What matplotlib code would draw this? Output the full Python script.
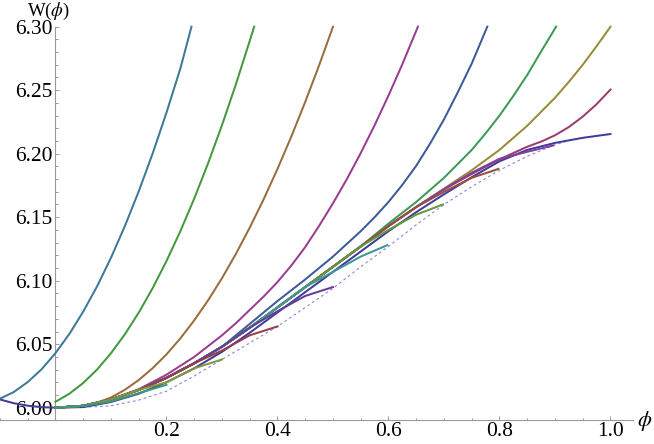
import matplotlib
matplotlib.use('Agg')
import matplotlib.pyplot as plt
from matplotlib.colors import hsv_to_rgb
from matplotlib.ticker import FixedLocator


# common band that most approximations follow before they peel off
GRID = [0.0, 0.05, 0.1, 0.15, 0.2, 0.25, 0.3, 0.35, 0.4, 0.45, 0.5,
        0.55, 0.6, 0.65, 0.7, 0.75, 0.8]
BAND = [6.000, 6.0015, 6.0065, 6.014, 6.0235, 6.035, 6.048, 6.063, 6.079,
        6.095, 6.111, 6.127, 6.143, 6.158, 6.172, 6.185, 6.196]

# long curves
C1_X = [-0.1, -0.075, -0.05, -0.025, 0.0, 0.05, 0.1, 0.15, 0.2, 0.25, 0.3,
        0.35, 0.4, 0.45, 0.5, 0.55, 0.6, 0.65, 0.7, 0.75, 0.8, 0.85, 0.9,
        0.95, 1.0]
C1_Y = [6.0065, 6.0035, 6.0016, 6.0004, 6.000, 6.0005, 6.0045, 6.011, 6.020,
        6.031, 6.044, 6.059, 6.075, 6.091, 6.107, 6.123, 6.139, 6.154, 6.168,
        6.1815, 6.194, 6.203, 6.2085, 6.2125, 6.2155]

C2_X = GRID[:15] + [0.75, 0.8, 0.85, 0.875, 0.9, 0.925, 0.95, 0.975, 1.0]
C2_Y = BAND[:15] + [6.184, 6.1955, 6.2055, 6.2095, 6.2145, 6.221, 6.2292,
                    6.239, 6.2505]

C3_X = GRID[:14] + [0.7, 0.75, 0.8, 0.85, 0.9, 0.925, 0.95, 0.975, 1.0]
C3_Y = BAND[:14] + [6.1725, 6.187, 6.203, 6.222, 6.244, 6.2566, 6.270,
                    6.2847, 6.300]

C4_X = GRID[:12] + [0.6, 0.65, 0.7, 0.75, 0.775, 0.8, 0.825, 0.85, 0.875,
                    0.902]
C4_Y = BAND[:12] + [6.145, 6.162, 6.181, 6.203, 6.216, 6.230, 6.2455, 6.262,
                    6.2805, 6.300]

C5_X = GRID[:7] + [0.35, 0.4, 0.45, 0.5, 0.55, 0.575, 0.6, 0.625, 0.65,
                   0.675, 0.7, 0.725, 0.75, 0.778]
C5_Y = BAND[:7] + [6.066, 6.084, 6.101, 6.119, 6.139, 6.150, 6.162, 6.1755,
                   6.1905, 6.208, 6.227, 6.2485, 6.271, 6.300]

C6_X = [0.0, 0.05, 0.1, 0.15, 0.2, 0.25, 0.3, 0.325, 0.35, 0.375, 0.4,
        0.425, 0.45, 0.475, 0.5, 0.525, 0.55, 0.575, 0.6, 0.625, 0.653]
C6_Y = [6.000, 6.0015, 6.0065, 6.0145, 6.026, 6.040, 6.057, 6.0665, 6.077,
        6.0875, 6.099, 6.112, 6.1265, 6.1432, 6.161, 6.180, 6.2005, 6.2224,
        6.2458, 6.2705, 6.300]

C7_X = [0.0, 0.025, 0.05, 0.075, 0.1, 0.125, 0.15, 0.175, 0.2, 0.225, 0.25,
        0.275, 0.3, 0.325, 0.35, 0.375, 0.4, 0.425, 0.45, 0.475, 0.5]
C7_Y = [6.000, 6.0005, 6.0015, 6.004, 6.008, 6.0141, 6.0218, 6.0311, 6.042,
        6.0546, 6.0688, 6.0846, 6.102, 6.1211, 6.1418, 6.1641, 6.188, 6.2136,
        6.2408, 6.2696, 6.300]

C8_X = [0.0, 0.025, 0.05, 0.075, 0.1, 0.125, 0.15, 0.175, 0.2, 0.225, 0.25,
        0.275, 0.3, 0.325, 0.35, 0.358]
C8_Y = [6.0047, 6.011, 6.0195, 6.0301, 6.0429, 6.0578, 6.0749, 6.0941,
        6.1155, 6.139, 6.1647, 6.1925, 6.2225, 6.2546, 6.2889, 6.300]

C9_X = [-0.1, -0.075, -0.05, -0.025, 0.0, 0.025, 0.05, 0.075, 0.1, 0.125,
        0.15, 0.175, 0.2, 0.225, 0.245]
C9_Y = [6.0071, 6.0124, 6.0202, 6.0303, 6.043, 6.0581, 6.0757, 6.0956,
        6.1181, 6.143, 6.1704, 6.2001, 6.2324, 6.2671, 6.300]

# short curves, each ending on the dashed line
C10_X = GRID + [0.85, 0.897]
C10_Y = BAND + [6.2015, 6.2065]
C11_X = GRID[:14] + [0.7, 0.75, 0.798]
C11_Y = BAND[:14] + [6.170, 6.181, 6.188]
C12_X = GRID[:12] + [0.6, 0.65, 0.698]
C12_Y = BAND[:12] + [6.140, 6.152, 6.160]
C13_X = GRID[:10] + [0.5, 0.55, 0.598]
C13_Y = BAND[:10] + [6.107, 6.119, 6.128]
C14_X = GRID[:8] + [0.4, 0.45, 0.5]
C14_Y = BAND[:8] + [6.076, 6.088, 6.095]
C15_X = GRID[:6] + [0.3, 0.35, 0.4]
C15_Y = BAND[:6] + [6.045, 6.057, 6.064]
C16_X = GRID[:4] + [0.2, 0.25, 0.3]
C16_Y = BAND[:4] + [6.020, 6.031, 6.038]
C17_X = GRID[:2] + [0.1, 0.15, 0.2]
C17_Y = BAND[:2] + [6.005, 6.0115, 6.018]

# dashed reference curve
REF_X = [0.0, 0.05, 0.1, 0.15, 0.2, 0.25, 0.3, 0.35, 0.4, 0.45, 0.5, 0.55,
         0.6, 0.65, 0.7, 0.75, 0.8, 0.85, 0.9, 0.93]
REF_Y = [6.000, 6.0003, 6.0015, 6.006, 6.013, 6.025, 6.038, 6.051, 6.064,
         6.079, 6.094, 6.111, 6.127, 6.144, 6.160, 6.174, 6.187, 6.198,
         6.207, 6.211]

CURVES = [(C1_X, C1_Y), (C2_X, C2_Y), (C3_X, C3_Y), (C4_X, C4_Y),
          (C5_X, C5_Y), (C6_X, C6_Y), (C7_X, C7_Y), (C8_X, C8_Y),
          (C9_X, C9_Y), (C10_X, C10_Y), (C11_X, C11_Y), (C12_X, C12_Y),
          (C13_X, C13_Y), (C14_X, C14_Y), (C15_X, C15_Y), (C16_X, C16_Y),
          (C17_X, C17_Y)]

X_MAJOR = [0.2, 0.4, 0.6, 0.8, 1.0]
X_MINOR = [-0.1, -0.05, 0.05, 0.1, 0.15, 0.25, 0.3, 0.35, 0.45, 0.5, 0.55,
           0.65, 0.7, 0.75, 0.85, 0.9, 0.95]
Y_MAJOR = [6.00, 6.05, 6.10, 6.15, 6.20, 6.25, 6.30]
Y_MINOR = [6.00 + 0.01 * k for k in range(1, 30) if k % 5]

# Mathematica-style default hues (golden-ratio steps)
HUES = [(0.67 + 0.236068 * i) % 1.0 for i in range(len(CURVES))]

AXIS_Y = 5.9906
GRAY = '#999999'

plt.rcParams['font.family'] = ['Liberation Serif', 'DejaVu Serif']
plt.rcParams['mathtext.fontset'] = 'stix'

fig = plt.figure(figsize=(6.54, 4.44), dpi=100)
ax = fig.add_axes([0, 0, 1, 1])
ax.set_xlim(-0.1, 1.0784)
ax.set_ylim(5.97142, 6.32102)

ax.plot(REF_X, REF_Y, color='#8a8ad8', lw=0.8, dashes=(2.5, 2.5), zorder=1)
for i, (xs, ys) in enumerate(CURVES):
    ax.plot(xs, ys, color=hsv_to_rgb((HUES[i], 0.6, 0.6)), lw=1.45,
            solid_joinstyle='round', zorder=2 + i)

for side in ['top', 'right']:
    ax.spines[side].set_visible(False)
ax.spines['left'].set_position(('data', 0.0))
ax.spines['bottom'].set_position(('data', AXIS_Y))
ax.spines['left'].set_bounds(AXIS_Y, 6.30)
ax.spines['bottom'].set_bounds(-0.1, 1.04)
for side in ['left', 'bottom']:
    ax.spines[side].set_color(GRAY)
    ax.spines[side].set_linewidth(0.8)

ax.xaxis.set_major_locator(FixedLocator(X_MAJOR))
ax.xaxis.set_minor_locator(FixedLocator(X_MINOR))
ax.yaxis.set_major_locator(FixedLocator(Y_MAJOR))
ax.yaxis.set_minor_locator(FixedLocator(Y_MINOR))
ax.set_xticklabels(['%.1f' % v for v in X_MAJOR])
ax.set_yticklabels(['%.2f' % v for v in Y_MAJOR])

ax.tick_params(which='both', direction='in', color=GRAY, width=0.7,
               labelsize=15.5, labelcolor='black')
ax.tick_params(which='major', length=3.2)
ax.tick_params(which='minor', length=1.8)
ax.tick_params(axis='x', pad=2)
ax.tick_params(axis='y', pad=2)

fig.text(27 / 654, 1 - 1 / 444, r'W($\phi$)', fontsize=13.5,
         ha='left', va='top')
fig.text(645 / 654, 1 - 421 / 444, r'$\phi$', fontsize=16,
         ha='center', va='center')

fig.savefig('out.png', dpi=100)
